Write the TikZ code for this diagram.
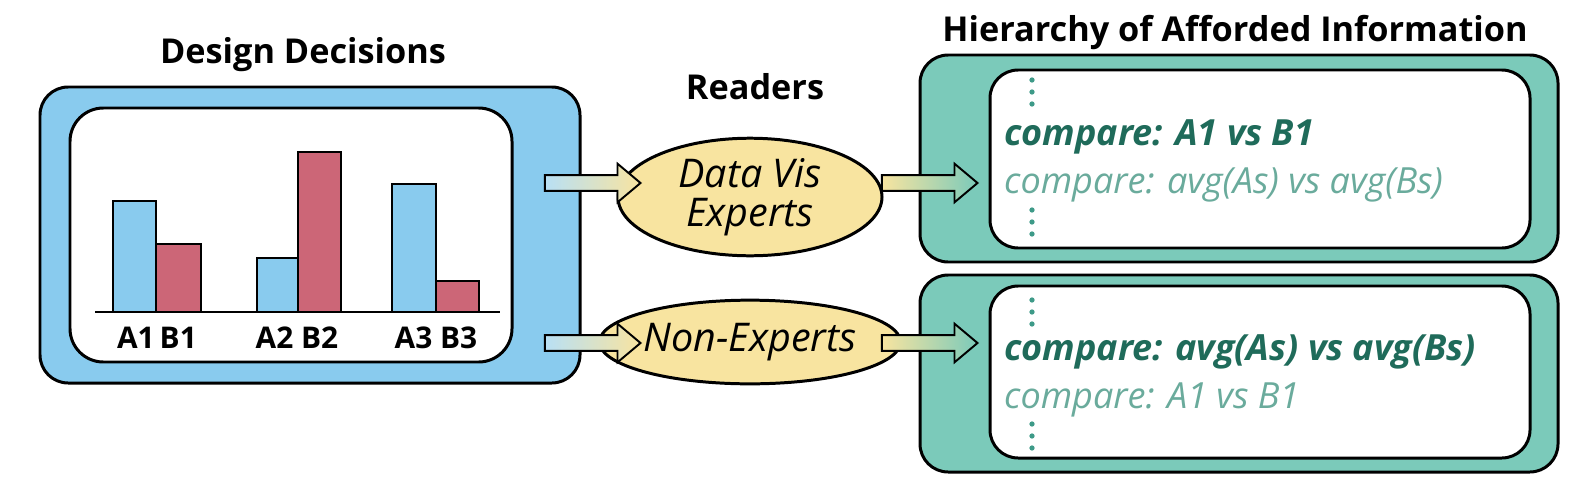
\documentclass[tikz,border=0pt]{standalone}
\usepackage{fontspec}
\setmainfont{Open Sans}
\usetikzlibrary{shapes.geometric,shapes.arrows}
\definecolor{sky}{HTML}{89CBEE}
\definecolor{rose}{HTML}{CC6677}
\definecolor{sand}{HTML}{F8E4A0}
\definecolor{teal}{HTML}{7BCABA}
\definecolor{dkgreen}{HTML}{1F6B5A}
\definecolor{ltgreen}{HTML}{6AAB9C}
\definecolor{dotc}{HTML}{3E9A88}
\begin{document}
\begin{tikzpicture}[x=0.02cm,y=-0.02cm,
  box/.style={draw=black,line width=1.7pt,rounded corners=16pt},
  bar/.style={draw=black,line width=1.1pt},
  title/.style={font=\fontsize{19.5}{20}\selectfont\bfseries},
  lab/.style={font=\fontsize{17}{18}\selectfont\bfseries},
  ell/.style={ellipse,draw=black,line width=1.7pt,fill=sand,font=\fontsize{22.5}{24}\selectfont\itshape,align=center,inner sep=0pt},
  barrow/.style={single arrow,draw=black,line width=1.1pt,minimum height=96*0.567pt,minimum width=22pt,single arrow head extend=4pt,single arrow tip angle=80,inner sep=2.2pt},
  strong/.style={anchor=west,text=dkgreen,font=\fontsize{20.5}{22}\selectfont\bfseries\itshape},
  weak/.style={anchor=west,text=ltgreen,font=\fontsize{20.5}{22}\selectfont\itshape},
  dot/.style={circle,fill=dotc,inner sep=0pt,minimum size=3pt}]
\useasboundingbox (0,0) rectangle (1594,490);
\node[title] (t1) at (303,55) {Design Decisions};
\node[title] (t2) at (755,87) {Readers};
\node[title] (t3) at (1235,33) {Hierarchy of Afforded Information};
\draw[box,fill=sky] (40,87) rectangle (580,383);
\draw[box,fill=white,rounded corners=19pt] (70,108) rectangle (512,362);
\draw[bar,fill=sky] (113,312) rectangle (156,201);
\draw[bar,fill=rose] (156,312) rectangle (201,244);
\draw[bar,fill=sky] (257,312) rectangle (298,258);
\draw[bar,fill=rose] (298,312) rectangle (341,152);
\draw[bar,fill=sky] (392,312) rectangle (436,184);
\draw[bar,fill=rose] (436,312) rectangle (479,281);
\draw[line width=1.1pt] (95,312) -- (500,312);
\node[lab] (l1) at (157,338) {A1\,B1};
\node[lab] (l2) at (297,338) {A2 B2};
\node[lab] (l3) at (436,338) {A3 B3};
\node[ell,minimum width=265*0.567pt,minimum height=118*0.567pt] (e1) at (750,197) {Data Vis\\[-2pt]Experts};
\node[ell,minimum width=265*0.567pt,minimum height=84*0.567pt] (e2) at (750,342) {Non-Experts};
\draw[box,fill=teal] (920,55) rectangle (1558,262);
\draw[box,fill=white] (990,70) rectangle (1530,248);
\draw[box,fill=teal] (920,275) rectangle (1558,472);
\draw[box,fill=white] (990,286) rectangle (1530,458);
\foreach \n/\y in {a/80,b/92,c/104,d/210,e/222,f/234,g/300,h/312,i/324,j/424,k/436,l/448}
  \node[dot] (dt\n) at (1032,\y) {};
\node[strong] (s1) at (998,137) {compare: A1 vs B1};
\node[weak] (w1) at (998,185) {compare: avg(As) vs avg(Bs)};
\node[strong] (s2) at (998,352) {compare: avg(As) vs avg(Bs)};
\node[weak] (w2) at (998,400) {compare: A1 vs B1};
\node[barrow,left color=sky!60!white,right color=sand] (a1) at (588,183) {};
\node[barrow,left color=sky!60!white,right color=sand] (a2) at (588,343) {};
\node[barrow,left color=sand,right color=teal] (a3) at (925,183) {};
\node[barrow,left color=sand,right color=teal] (a4) at (925,343) {};
\end{tikzpicture}
\end{document}
